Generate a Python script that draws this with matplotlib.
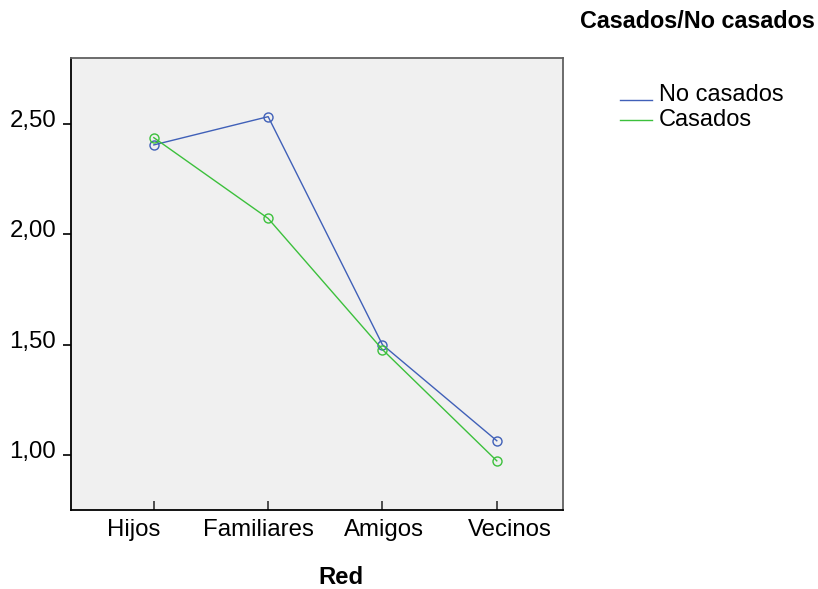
import matplotlib.pyplot as plt
from matplotlib.ticker import FuncFormatter
from matplotlib.lines import Line2D
import matplotlib.transforms as mtransforms

plt.rcParams["font.family"] = ["Liberation Sans", "DejaVu Sans"]

categories = ["Hijos", "Familiares", "Amigos", "Vecinos"]
no_casados = [2.405, 2.533, 1.500, 1.065]
casados = [2.438, 2.072, 1.478, 0.974]
series_names = ["No casados", "Casados"]
y_ticks = [1.00, 1.50, 2.00, 2.50]

blue = "#4060B8"
green = "#3CC03C"

W, H = 818, 589
fig = plt.figure(figsize=(W / 100, H / 100), dpi=100)
ax = fig.add_axes([0.0874, 0.134, 0.601, 0.768])
ax.set_facecolor("#F0F0F0")

x = list(range(len(categories)))
for vals, col, name in [(no_casados, blue, series_names[0]),
                        (casados, green, series_names[1])]:
    ax.plot(x, vals, color=col, lw=1.0, marker="o", ms=6.5,
            mfc="none", mec=col, mew=1.0, label=name)

ax.set_xlim(-0.72, 3.58)
ax.set_ylim(0.751, 2.80)
ax.set_xticks(x)
ax.set_xticklabels(categories)
ax.set_yticks(y_ticks)
ax.yaxis.set_major_formatter(FuncFormatter(lambda v, p: f"{v:.2f}".replace(".", ",")))

ax.tick_params(axis="x", direction="in", length=6.5, width=1.2, pad=6.5,
               labelsize=17.3, color="#333333")
ax.tick_params(axis="y", direction="out", length=6, width=1.2, pad=5,
               labelsize=17.3)

# SPSS draws the value labels slightly above their ticks
offset = mtransforms.ScaledTranslation(0, 4 / 72, fig.dpi_scale_trans)
for lbl in ax.get_yticklabels():
    lbl.set_transform(lbl.get_transform() + offset)

# category labels are spread a bit wider than the ticks themselves
for i, lbl in enumerate(ax.get_xticklabels()):
    dx = (-20.5 + 11.2 * i) / 100
    lbl.set_transform(lbl.get_transform()
                      + mtransforms.ScaledTranslation(dx, 0, fig.dpi_scale_trans))

for side in ["left", "bottom"]:
    ax.spines[side].set_color("black")
    ax.spines[side].set_linewidth(1.3)
for side in ["top", "right"]:
    ax.spines[side].set_color("#606060")
    ax.spines[side].set_linewidth(1.3)

ax.set_xlabel("Red", fontsize=17.2, fontweight="bold")
ax.xaxis.set_label_coords((341 - 71.5) / 491.5, -0.148)
ax.xaxis.label.set_verticalalignment("center")

fig.text(815 / W, 1 - 22 / H, "Casados/No casados", fontsize=16.8,
         fontweight="bold", ha="right", va="center")

# legend drawn by hand: the handle sits on the text baseline like in SPSS
legend_rows = [(series_names[0], blue, 100, 95), (series_names[1], green, 120, 120)]
for name, col, line_y, text_y in legend_rows:
    fig.add_artist(Line2D([620 / W, 652 / W], [1 - line_y / H, 1 - line_y / H],
                          color=col, lw=1.0, transform=fig.transFigure))
    fig.text(659 / W, 1 - text_y / H, name, fontsize=17, ha="left", va="center")

fig.savefig("out.png", dpi=100)
